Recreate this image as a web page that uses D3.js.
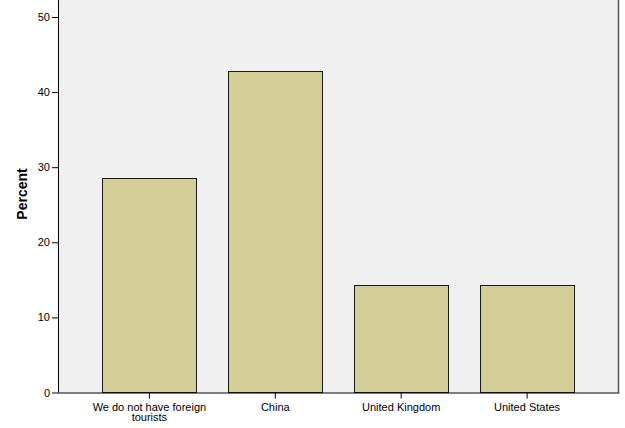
<!DOCTYPE html>
<html><head><meta charset="utf-8">
<script src="https://cdn.jsdelivr.net/npm/d3@7"></script>
<style>body{margin:0;background:#fff}svg{display:block}</style>
</head><body>
<script>
const categories = [["We do not have foreign","tourists"],["China"],["United Kingdom"],["United States"]];
const percents = [28.57, 42.86, 14.29, 14.29];
const yTicks = [0,10,20,30,40,50];

const W=625,H=428;
const left=58,right=618.5,bottom=392.5;
const svg=d3.select("body").append("svg").attr("width",W).attr("height",H);
const x=d3.scaleBand().domain(d3.range(categories.length)).range([left,right]).paddingInner(0.254).paddingOuter(0.353);
const y=d3.scaleLinear().domain([0,50]).range([bottom,17]);

svg.append("rect").attr("x",left).attr("y",-5).attr("width",right-left).attr("height",bottom+5).attr("fill","#f0f0f0");
svg.append("line").attr("x1",right).attr("x2",right).attr("y1",0).attr("y2",bottom).attr("stroke","#555").attr("stroke-width",1.5);

svg.selectAll("rect.bar").data(percents).join("rect").attr("class","bar")
 .attr("x",(d,i)=>Math.round(x(i))+0.5).attr("width",Math.round(x.bandwidth()))
 .attr("y",d=>Math.round(y(d))+0.5).attr("height",d=>bottom-Math.round(y(d))-0.5)
 .attr("fill","#d3ce97").attr("stroke","#1a1a1a").attr("stroke-width",1);

const ya=svg.append("g").attr("transform",`translate(${left},0)`)
 .call(d3.axisLeft(y).tickValues(yTicks).tickSize(6).tickPadding(2).tickFormat(d3.format("d")));
ya.select(".domain").attr("d",`M0.5,0V${bottom}`).attr("stroke","#000");
ya.selectAll("text").attr("font-family","Liberation Sans, Arial, sans-serif").attr("font-size",11).attr("fill","#000");

const xa=svg.append("g").attr("transform",`translate(0,${bottom})`)
 .call(d3.axisBottom(x).tickSize(6).tickFormat(""));
xa.select(".domain").attr("d",`M${left},0.5H${right+1}`).attr("stroke","#000");
xa.selectAll(".tick line").attr("stroke","#000");

svg.selectAll("text.cat").data(categories).join("text").attr("class","cat")
 .attr("x",(d,i)=>x(i)+x.bandwidth()/2).attr("y",411)
 .attr("text-anchor","middle").attr("font-family","Liberation Sans, Arial, sans-serif").attr("font-size",11).attr("fill","#000")
 .each(function(d){const t=d3.select(this);d.forEach((s,k)=>t.append("tspan").attr("x",t.attr("x")).attr("dy",k?10:0).text(s));});

svg.append("text").attr("transform","translate(27,194) rotate(-90)").attr("text-anchor","middle")
 .attr("font-family","Liberation Sans, Arial, sans-serif").attr("font-size",14).attr("font-weight","bold").text("Percent");
</script>
</body></html>
